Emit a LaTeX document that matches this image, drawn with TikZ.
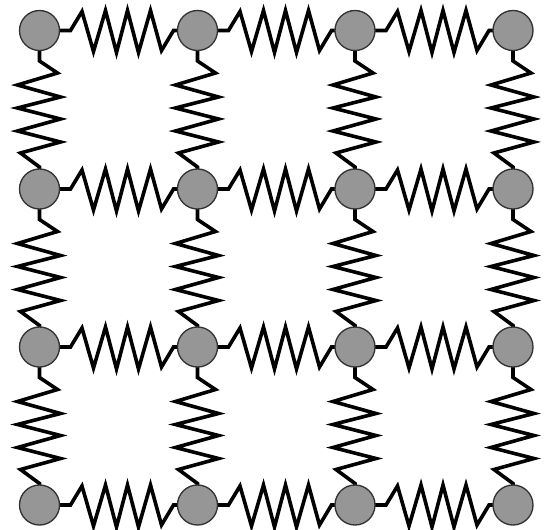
\documentclass[tikz,border=0pt]{standalone}
\usetikzlibrary{backgrounds}
\tikzset{
  x=0.75pt,y=-0.75pt,
  mass/.style={circle,draw=black!80,fill=black!41,line width=1pt,minimum size=30pt,inner sep=0pt},
  spring/.style={draw=black,line width=2.7pt,line join=miter,miter limit=10}
}
\newcommand{\hspring}[2]{\draw[spring] (#1.center) -- ++(31,0) -- ++(11.5,-19) -- ++(11.5,40) -- ++(12,-41) -- ++(11,42) -- ++(11,-42) -- ++(11,42) -- ++(12,-42) -- ++(11,40) -- ++(12,-20) -- (#2.center);}
\newcommand{\vspring}[2]{\draw[spring] (#1.center) -- ++(0,30.5) -- ++(18,12) -- ++(-40,12) -- ++(43,12) -- ++(-43,11) -- ++(43,11) -- ++(-43,12) -- ++(43,11) -- ++(-40,11) -- ++(19,14) -- (#2.center);}
\begin{document}
\begin{tikzpicture}
\useasboundingbox (0,0) rectangle (546,529);
\foreach \c/\x in {0/39.5,1/197.5,2/355,3/513}
  \foreach \r/\y in {0/30.5,1/189,2/347,3/505}
    \node[mass] (n\c\r) at (\x,\y) {};
\begin{pgfonlayer}{background}
\foreach \r in {0,1,2,3}{
  \hspring{n0\r}{n1\r}
  \hspring{n1\r}{n2\r}
  \hspring{n2\r}{n3\r}
}
\foreach \c in {0,1,2,3}{
  \vspring{n\c0}{n\c1}
  \vspring{n\c1}{n\c2}
  \vspring{n\c2}{n\c3}
}
\end{pgfonlayer}
\end{tikzpicture}
\end{document}
